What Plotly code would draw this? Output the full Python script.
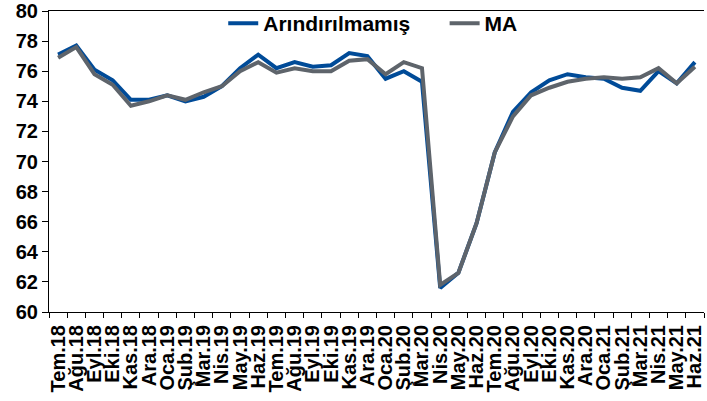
import plotly.graph_objects as go

months = ["Tem.18", "Ağu.18", "Eyl.18", "Eki.18", "Kas.18", "Ara.18",
          "Oca.19", "Şub.19", "Mar.19", "Nis.19", "May.19", "Haz.19",
          "Tem.19", "Ağu.19", "Eyl.19", "Eki.19", "Kas.19", "Ara.19",
          "Oca.20", "Şub.20", "Mar.20", "Nis.20", "May.20", "Haz.20",
          "Tem.20", "Ağu.20", "Eyl.20", "Eki.20", "Kas.20", "Ara.20",
          "Oca.21", "Şub.21", "Mar.21", "Nis.21", "May.21", "Haz.21"]

arindirilmamis = [77.1, 77.7, 76.1, 75.4, 74.1, 74.1,
                  74.4, 74.0, 74.3, 75.0, 76.2, 77.1,
                  76.2, 76.6, 76.3, 76.4, 77.2, 77.0,
                  75.5, 76.0, 75.3, 61.6, 62.6, 65.9,
                  70.6, 73.3, 74.6, 75.4, 75.8, 75.6,
                  75.5, 74.9, 74.7, 76.0, 75.2, 76.6]

ma = [76.9, 77.6, 75.8, 75.1, 73.7, 74.0,
      74.4, 74.1, 74.6, 75.0, 76.0, 76.6,
      75.9, 76.2, 76.0, 76.0, 76.7, 76.8,
      75.8, 76.6, 76.2, 61.8, 62.6, 65.9,
      70.6, 73.0, 74.4, 74.9, 75.3, 75.5,
      75.6, 75.5, 75.6, 76.2, 75.2, 76.3]

yticks = list(range(60, 81, 2))

FONT = "Arial, Liberation Sans, sans-serif"
LEG_FONT = dict(family=FONT, size=21, weight="bold", color="black")

fig = go.Figure()
fig.add_trace(go.Scatter(x=months, y=arindirilmamis, mode="lines",
                         name="Arındırılmamış", legend="legend",
                         line=dict(color="#004B98", width=4)))
fig.add_trace(go.Scatter(x=months, y=ma, mode="lines", name="MA",
                         legend="legend2",
                         line=dict(color="#5E646B", width=4)))

fig.update_layout(
    width=707, height=401,
    margin=dict(l=49, r=3, t=11, b=89, autoexpand=False),
    paper_bgcolor="white", plot_bgcolor="white",
    font=dict(family=FONT, color="black", size=19, weight="bold"),
    showlegend=True,
    legend=dict(orientation="h", x=0.266, xanchor="left", y=0.958, yanchor="middle",
                bgcolor="rgba(0,0,0,0)", font=LEG_FONT),
    legend2=dict(orientation="h", x=0.604, xanchor="left", y=0.958, yanchor="middle",
                 bgcolor="rgba(0,0,0,0)", font=LEG_FONT),
)

fig.update_xaxes(
    type="category", categoryorder="array", categoryarray=months,
    tickmode="array", tickvals=months, ticktext=months,
    tickangle=-90, tickson="boundaries", ticks="outside", ticklen=5,
    ticklabelstandoff=4,
    tickcolor="black", showline=True, linecolor="black", linewidth=1,
    mirror=True, showgrid=False, zeroline=False, automargin=False,
    tickfont=dict(family=FONT, size=20, weight="bold", color="black"),
    range=[-0.5, len(months) - 0.5],
)
fig.update_yaxes(
    range=[60, 80], tickmode="array", tickvals=yticks,
    ticks="outside", ticklen=6, tickcolor="black",
    showline=True, linecolor="black", linewidth=1,
    showgrid=False, zeroline=False, automargin=False,
    tickfont=dict(family=FONT, size=20, weight="bold", color="black"),
)

fig.write_html("out.html",
               config={"displayModeBar": False},
               post_script="document.body.style.margin='0';")
